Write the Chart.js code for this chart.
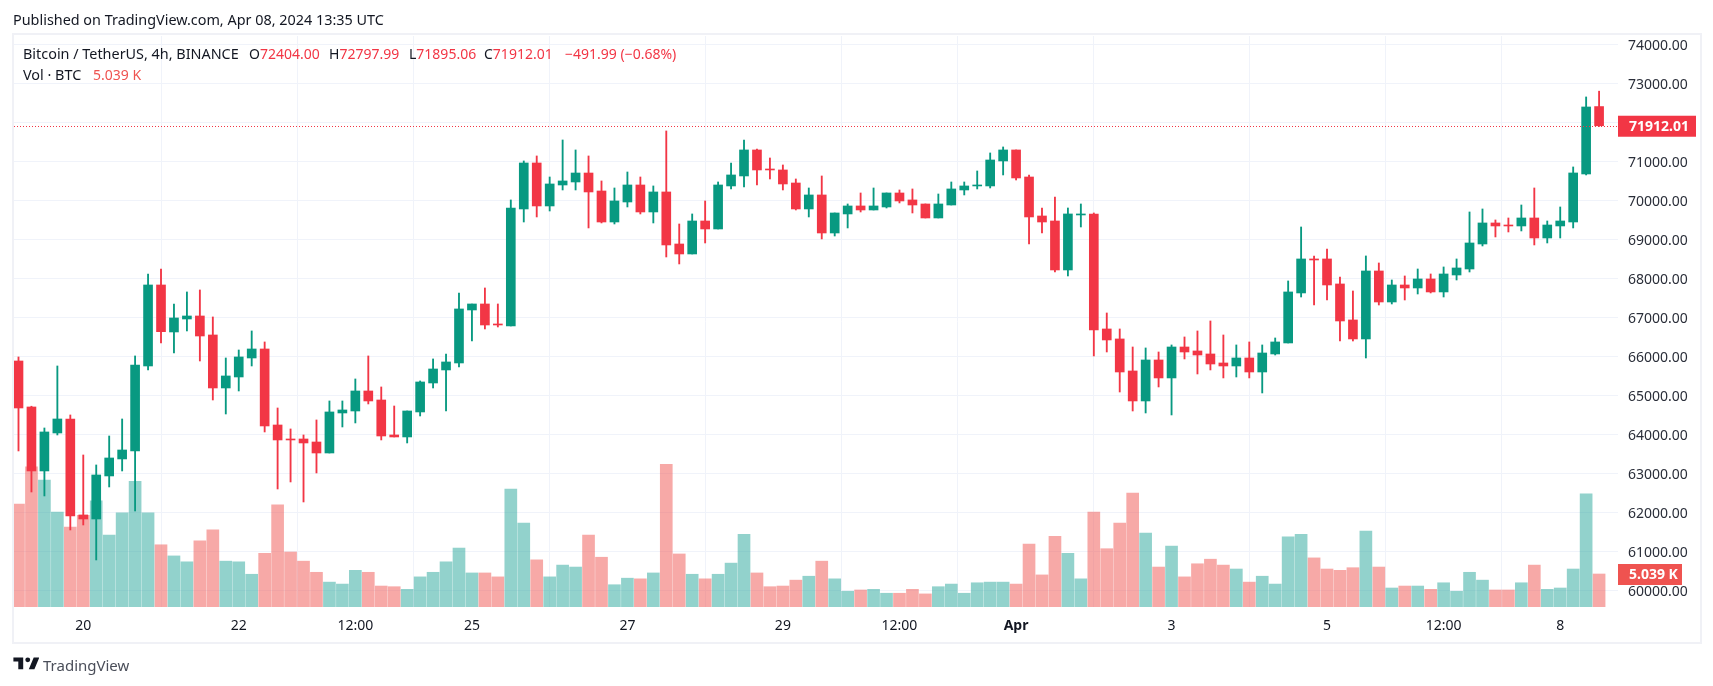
<!DOCTYPE html>
<html>
<head>
<meta charset="utf-8">
<title>BTCUSDT 4h</title>
<script src="https://cdn.jsdelivr.net/npm/chart.js@4/dist/chart.umd.js"></script>
<style>
  html, body { margin:0; padding:0; background:#fff; width:1713px; height:686px; overflow:hidden; }
  body { font-family:"Noto Sans",sans-serif; color:#131722; position:relative; }
  #wrap { position:absolute; left:0; top:0; width:1713px; height:686px; }
  #frame { position:absolute; left:12px; top:33px; width:1686px; height:607px; border:2px solid #f0f1f6; pointer-events:none; }
  .txt { position:absolute; white-space:nowrap; font-size:14px; line-height:18px; }
  .wide { font-size:14.4px; }
  .up { color:#f23645; }
  .vol { color:#ef5350; }
  #brand { position:absolute; left:13px; top:656px; }
</style>
</head>
<body>
<div id="wrap"><canvas id="chart" width="1713" height="686"></canvas></div>
<div id="frame"></div>
<div class="txt wide" style="left:13px;top:11px;">Published on TradingView.com, Apr 08, 2024 13:35 UTC</div>
<div class="txt wide" style="left:23px;top:45px;">Bitcoin / TetherUS, 4h, BINANCE</div>
<div class="txt" style="left:249px;top:45px;">O<span class="up">72404.00</span></div>
<div class="txt" style="left:329px;top:45px;">H<span class="up">72797.99</span></div>
<div class="txt" style="left:409px;top:45px;">L<span class="up">71895.06</span></div>
<div class="txt" style="left:484px;top:45px;">C<span class="up">71912.01</span></div>
<div class="txt up" style="left:565px;top:45px;">−491.99 (−0.68%)</div>
<div class="txt wide" style="left:23px;top:66px;">Vol · BTC</div>
<div class="txt vol" style="left:93px;top:66px;">5.039 K</div>
<svg id="brand" width="26" height="14" viewBox="0 0 36 20"><path fill="#131722" d="M14 2H0v6h7v11h7V2zm16 17h-8l7-17h8l-7 17zM24 5.5a3.5 3.5 0 1 1-7 0 3.5 3.5 0 0 1 7 0z"/></svg>
<div class="txt" style="left:43px;top:655px;font-size:15px;line-height:20px;color:#4a4e59;">TradingView</div>
<script>
// ── 4h candles, Mar 19 04:00 → Apr 8 12:00 ─────────────────────────────────
const opens = [
  65880,64701,63060,64034,64393,61932,61829,62932,63368,63573,
  65752,67829,66624,66957,67034,66547,65188,65470,65957,66188,
  64239,63880,63880,63803,63521,64547,64598,65111,64880,63983,
  63932,64573,65316,65650,65829,67188,67342,66829,66778,69778,
  70957,69855,70393,70470,70700,70239,69444,69957,70393,69701,
  70214,68880,68624,69470,69265,70368,70624,71291,70803,70778,
  70444,69778,70137,69162,69650,69855,69752,69829,70188,70009,
  69906,69547,69880,70265,70368,70368,71009,71291,70598,69598,
  69470,68214,69624,69650,66701,66445,65624,64855,65906,65445,
  66239,66137,66060,65829,65752,65957,65598,66060,66342,67624,
  68496,68496,67855,66932,66445,68188,67393,67829,67752,67983,
  67650,68085,68239,68880,69419,69367,69342,69547,69034,69342,
  69444,70675,72404
];
const closes = [
  64675,63060,64060,64393,61906,61829,62957,63393,63598,65778,
  67829,66632,66983,67034,66521,65188,65496,65983,66188,64214,
  63855,63855,63778,63521,64573,64624,65111,64855,63957,63932,
  64598,65342,65675,65855,67214,67342,66803,66803,69803,70957,
  69855,70419,70496,70700,70214,69444,69983,70393,69701,70214,
  68855,68624,69470,69265,70393,70650,71291,70778,70778,70419,
  69778,70137,69162,69675,69855,69752,69855,70188,69983,69880,
  69547,69906,70291,70368,70393,71034,71291,70573,69573,69444,
  68214,69650,69650,66675,66419,65598,64855,65906,65445,66239,
  66111,66034,65803,65752,65957,65598,66085,66368,67650,68496,
  68470,67829,66906,66445,68188,67393,67829,67752,67983,67650,
  68111,68265,68906,69419,69342,69342,69547,69034,69367,69470,
  70701,72393,71912.01
];
const highs = [
  65983,64720,64162,65752,64496,63470,63214,63957,64393,66009,
  68111,68239,67342,67650,67701,67009,65957,66162,66650,66368,
  64675,64137,63983,64368,64855,64855,65419,66009,65214,64726,
  64598,65368,65932,66060,67624,67342,67752,67342,70009,71009,
  71137,70598,71547,71291,71137,70496,70316,70726,70598,70368,
  71778,69393,69650,69983,70470,70957,71547,71316,71085,70906,
  70547,70316,70624,69675,69906,70188,70316,70188,70265,70291,
  69906,70162,70470,70470,70752,71214,71368,71291,70650,69803,
  70085,69803,69906,69675,67111,66701,66239,66214,66111,66291,
  66496,66650,66906,66547,66291,66368,66291,66470,67932,69316,
  68573,68752,68034,67675,68573,68393,67957,68060,68239,68111,
  68291,68496,69701,69778,69496,69547,69880,70316,69470,69829,
  70855,72650,72797.99
];
const lows = [
  63573,62521,62419,63983,61547,61675,60778,62650,63060,62034,
  65650,66342,66085,66650,65880,64880,64521,65111,65752,64060,
  62598,62778,62265,63009,63521,64188,64291,64778,63855,63932,
  63778,64470,65188,64597,65726,66393,66701,66752,66778,69444,
  69573,69726,70265,70265,69291,69419,69393,69829,69650,69419,
  68547,68368,68624,68906,69265,70291,70342,70393,70547,70265,
  69752,69573,69009,69085,69291,69701,69752,69803,69932,69675,
  69547,69547,69880,70137,70291,70316,70650,70521,68880,69162,
  68162,68060,69316,66009,66111,65085,64598,64547,65214,64496,
  65932,65547,65650,65445,65470,65445,65060,66034,66342,67521,
  67316,67444,66393,66393,65957,67316,67342,67444,67598,67624,
  67521,67957,68162,68829,69060,69188,69214,68855,68906,69034,
  69291,70650,71895.06
];
// volume in thousands of BTC
const volumes = [
  15.7,21.4,19.4,14.5,12.2,14.0,16.2,11.0,14.4,19.2,
  14.4,9.5,7.8,6.9,10.1,11.8,7.0,6.9,5.0,8.2,
  15.6,8.4,7.0,5.3,3.8,3.5,5.6,5.3,3.2,3.1,
  2.7,4.6,5.3,6.9,9.0,5.2,5.2,4.6,18.0,12.8,
  7.2,4.6,6.4,6.1,11.0,7.6,3.4,4.4,4.3,5.2,
  21.8,8.1,5.0,4.3,5.0,6.7,11.1,5.2,3.1,3.2,
  4.1,4.7,7.0,4.3,2.4,2.6,2.7,2.1,2.1,2.7,
  2.0,3.1,3.5,2.1,3.7,3.8,3.8,3.5,9.6,4.9,
  10.8,8.2,4.3,14.5,8.9,12.8,17.4,11.3,6.1,9.3,
  4.6,6.6,7.3,6.4,5.8,3.8,4.7,3.5,10.7,11.1,
  7.5,5.8,5.6,6.0,11.6,6.1,2.9,3.2,3.2,2.7,
  3.7,2.4,5.3,4.1,2.6,2.6,3.7,6.4,2.7,2.9,
  5.8,17.3,5.039
];

const priceTicks = [60000,61000,62000,63000,64000,65000,66000,67000,68000,69000,70000,71000,72000,73000,74000];
const timeTickIndex  = [5,17,26,35,47,59,68,77,89,101,110,119];
const timeTickLabels = ['20','22','12:00','25','27','29','12:00','Apr','3','5','12:00','8'];

const UP = '#089981', DOWN = '#f23645';
const VOL_UP = 'rgba(38,166,154,0.5)', VOL_DOWN = 'rgba(239,83,80,0.5)';
const FONT = '"Noto Sans",sans-serif';

const isUp = closes.map((c, i) => c >= opens[i]);
const candleCols = isUp.map(u => u ? UP : DOWN);
const volCols    = isUp.map(u => u ? VOL_UP : VOL_DOWN);

// last price line and the two badges on the price axis
const lastBadges = {
  id: 'lastBadges',
  afterDatasetsDraw(chart) {
    const { ctx, chartArea: a, scales } = chart;
    const lastClose = closes[closes.length - 1];
    const lastVol   = volumes[volumes.length - 1];
    const py = scales.y.getPixelForValue(lastClose);
    const vy = scales.vol.getPixelForValue(lastVol);
    ctx.save();
    ctx.strokeStyle = DOWN;
    ctx.lineWidth = 1;
    ctx.setLineDash([1, 2]);
    ctx.beginPath();
    ctx.moveTo(a.left, Math.round(py) + 0.5);
    ctx.lineTo(a.right, Math.round(py) + 0.5);
    ctx.stroke();
    ctx.setLineDash([]);
    ctx.textBaseline = 'middle';
    ctx.font = 'bold 14px ' + FONT;

    ctx.fillStyle = DOWN;
    ctx.fillRect(a.right, py - 10, 78, 21);
    ctx.fillStyle = '#fff';
    ctx.fillText(lastClose.toFixed(2), a.right + 11, py + 1.5);

    ctx.fillStyle = '#ef5350';
    ctx.fillRect(a.right, vy - 10, 64, 21);
    ctx.fillStyle = '#fff';
    ctx.fillText(lastVol.toFixed(3) + ' K', a.right + 11, vy + 1.5);
    ctx.restore();
  }
};

new Chart(document.getElementById('chart').getContext('2d'), {
  type: 'bar',
  data: {
    datasets: [
      { label:'Body', order:1, grouped:false, barThickness:9, backgroundColor:candleCols,
        data: opens.map((o, i) => ({ x:i, y:[o, closes[i]] })) },
      { label:'Wick', order:2, grouped:false, barThickness:1.2, backgroundColor:candleCols,
        data: lows.map((l, i) => ({ x:i, y:[l, highs[i]] })) },
      { label:'Vol', order:3, grouped:false, barThickness:12, backgroundColor:volCols, yAxisID:'vol',
        data: volumes.map((v, i) => ({ x:i, y:v })) },
    ],
  },
  options: {
    responsive:false, animation:false,
    layout:{ padding:{ left:14, top:36, right:13, bottom:44 } },
    plugins:{ legend:{ display:false }, tooltip:{ enabled:false } },
    scales:{
      x:{
        type:'linear', offset:false, min:-0.347, max:123.46,
        afterBuildTicks: s => { s.ticks = timeTickIndex.map(v => ({ value:v })); },
        afterFit: s => { s.height = 35; },
        grid:{ color:'#f0f3fa', lineWidth:1, drawTicks:false },
        border:{ display:false },
        ticks:{
          autoSkip:false, maxRotation:0, padding:11, color:'#131722',
          font: c => ({ family:FONT, size:14, weight: timeTickIndex[c.index] === 77 ? 'bold' : 'normal' }),
          callback: (v) => timeTickLabels[timeTickIndex.indexOf(v)],
        },
      },
      y:{
        position:'right', min:59572, max:74213,
        afterBuildTicks: s => { s.ticks = priceTicks.map(v => ({ value:v })); },
        afterFit: s => { s.width = 82; },
        grid:{ color:'#f0f3fa', lineWidth:1, drawTicks:false },
        border:{ display:false },
        ticks:{
          autoSkip:false, padding:10, labelOffset:1.5, color:'#2a2e39', font:{ family:FONT, size:14 },
          callback: v => v.toFixed(2),
        },
      },
      vol:{ display:false, min:0, max:87.2 },
    },
  },
  plugins:[lastBadges],
});
</script>
</body>
</html>
